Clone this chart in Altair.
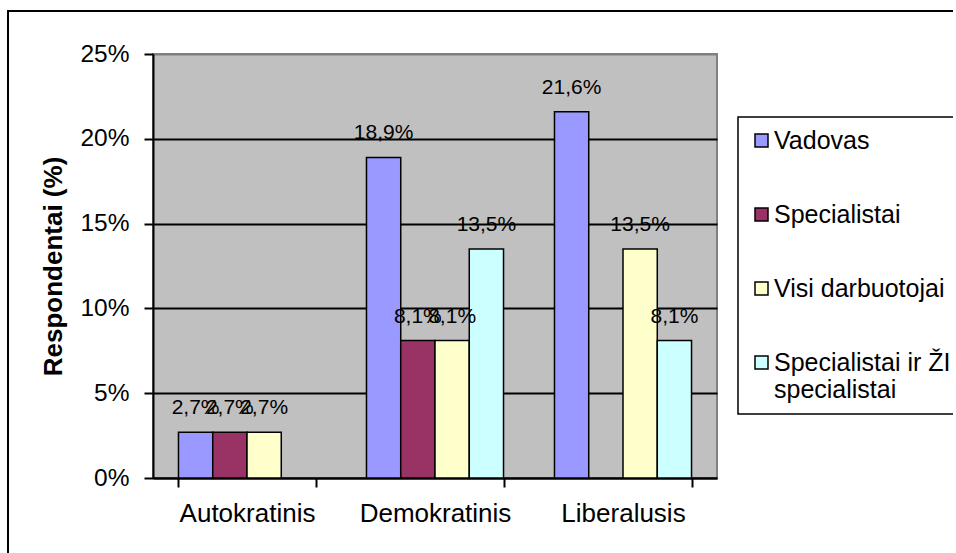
import altair as alt
import pandas as pd

# Leadership style preference by respondent group (share of respondents, %)
categories = ["Autokratinis", "Demokratinis", "Liberalusis"]
series = ["Vadovas", "Specialistai", "Visi darbuotojai", "Specialistai ir ŽI specialistai"]
vadovas = [2.7, 18.9, 21.6]
specialistai = [2.7, 8.1, None]
visi_darbuotojai = [2.7, 8.1, 13.5]
specialistai_ir_zi = [None, 13.5, 8.1]
colors = ["#9999FF", "#993366", "#FFFFCC", "#CCFFFF"]
y_ticks = [0, 5, 10, 15, 20, 25]

rows = []
for name, values in zip(series, [vadovas, specialistai, visi_darbuotojai, specialistai_ir_zi]):
    for cat, v in zip(categories, values):
        if v is not None:
            rows.append({"kategorija": cat, "grupe": name, "reiksme": v})
df = pd.DataFrame(rows)

FONT = "Liberation Sans"
W, H = 564, 424

base = alt.Chart(df).transform_calculate(
    zyme="replace(format(datum.reiksme, '.1f'), '.', ',') + '%'"
)

x_enc = alt.X(
    "kategorija:N",
    sort=categories,
    title=None,
    scale=alt.Scale(paddingInner=0.271, paddingOuter=0.1355),
    axis=alt.Axis(
        labelAngle=0,
        labelFontSize=26,
        labelFont=FONT,
        labelColor="black",
        labelPadding=13,
        tickBand="extent",
        tickSize=9,
        tickColor="black",
        tickWidth=2,
        domainColor="black",
        domainWidth=2,
        grid=False,
    ),
)
xoff = alt.XOffset("grupe:N", sort=series, scale=alt.Scale(domain=series, paddingInner=0, paddingOuter=0))
y_enc = alt.Y(
    "reiksme:Q",
    scale=alt.Scale(domain=[0, 25], nice=False),
    axis=alt.Axis(
        values=y_ticks,
        labelExpr="datum.value + '%'",
        labelFontSize=24.5,
        labelFont=FONT,
        labelColor="black",
        labelPadding=15,
        tickSize=9,
        tickColor="black",
        tickWidth=2,
        domainColor="black",
        domainWidth=2,
        gridColor={"condition": {"test": "datum.value == 25", "value": "#808080"}, "value": "black"},
        gridWidth=2,
        title="Respondentai (%)",
        titleFont=FONT,
        titleFontSize=26,
        titleFontWeight="bold",
        titleColor="black",
        titleAngle=-90,
        titleX=-100,
        titleY=212,
        titleAlign="center",
        titleBaseline="middle",
    ),
)

bars = base.mark_bar(stroke="black", strokeWidth=1.5).encode(
    x=x_enc,
    xOffset=xoff,
    y=y_enc,
    color=alt.Color(
        "grupe:N",
        sort=series,
        scale=alt.Scale(domain=series, range=colors),
        legend=alt.Legend(
            title=None,
            orient="none",
            legendX=585,
            legendY=63,
            labelExpr="datum.label == 'Specialistai ir ŽI specialistai' ? ['Specialistai ir ŽI', 'specialistai'] : datum.label",
        ),
    ),
)

labels = base.mark_text(
    font=FONT, fontSize=21, color="black", baseline="middle", dy=-24
).encode(
    x=alt.X("kategorija:N", sort=categories),
    xOffset=alt.XOffset("grupe:N", sort=series),
    y=alt.Y("reiksme:Q"),
    text="zyme:N",
)

frame = alt.Chart(pd.DataFrame({"r": [0]})).mark_rect(
    fill=None, stroke="black", strokeWidth=2
).encode(
    x=alt.value(-145), x2=alt.value(900), y=alt.value(-43), y2=alt.value(700)
)

chart = alt.layer(frame, bars, labels).properties(
    width=W, height=H,
    autosize=alt.AutoSizeParams(type="none"),
    padding={"left": 153, "top": 54, "right": 953 - 153 - W, "bottom": 553 - 54 - H},
    background="white",
).configure_view(
    fill="#C0C0C0", stroke="#808080", strokeWidth=2
).configure_legend(
    strokeColor="black",
    strokeWidth=1.5,
    fillColor="white",
    padding=11,
    rowPadding=48,
    symbolType="square",
    symbolSize=169,
    symbolStrokeColor="black",
    symbolStrokeWidth=1.5,
    symbolOffset=0,
    labelFont=FONT,
    labelFontSize=25,
    labelColor="black",
    labelLimit=500,
    labelOffset=0,
)

chart.save("out.html", embed_options={"renderer": "svg", "actions": False})
